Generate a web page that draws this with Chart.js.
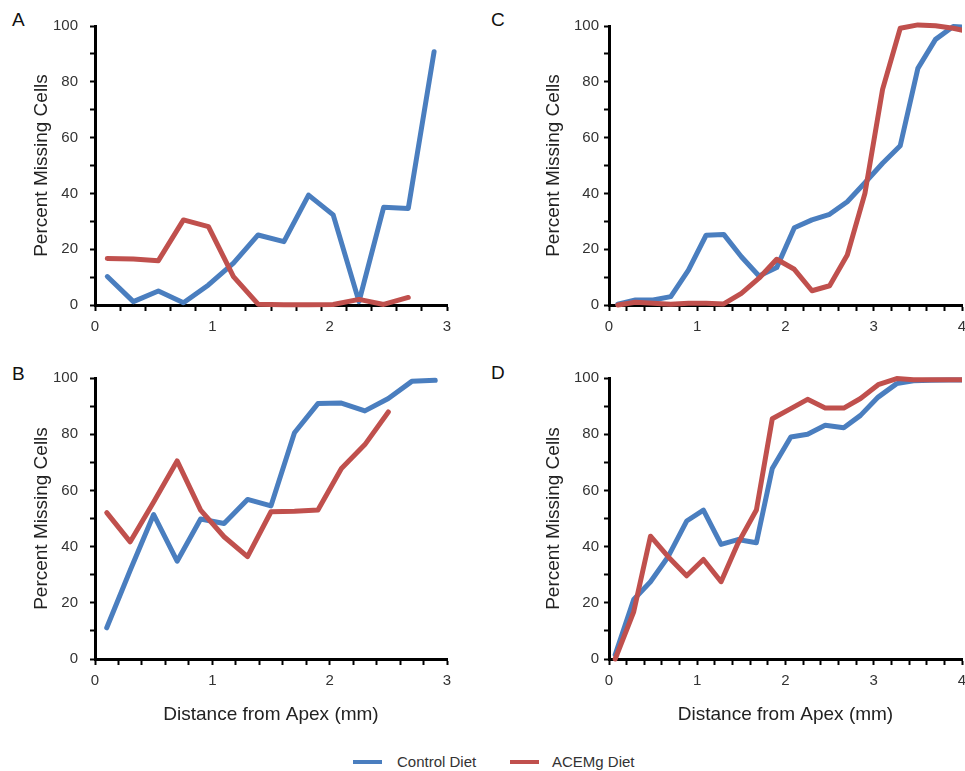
<!DOCTYPE html>
<html>
<head>
<meta charset="utf-8">
<script src="https://cdn.jsdelivr.net/npm/chart.js@4.4.1/dist/chart.umd.min.js"></script>
<style>
html,body{margin:0;padding:0;background:#fff;width:965px;height:771px;overflow:hidden}
body{position:relative;font-family:"Liberation Sans",Arial,sans-serif}
canvas{position:absolute;display:block}
.lt{position:absolute;font-size:19px;line-height:19px;color:#111}
.sw{position:absolute;top:760px;width:29px;height:4px}
.lg{position:absolute;top:753px;font-size:15px;line-height:18px;color:#333}
</style>
</head>
<body>
<div class="lt" style="left:12px;top:10px">A</div>
<div class="lt" style="left:491px;top:10px">C</div>
<div class="lt" style="left:12px;top:364px">B</div>
<div class="lt" style="left:491px;top:363px">D</div>

<canvas id="cA" width="480" height="345" style="left:0;top:0"></canvas>
<canvas id="cB" width="480" height="390" style="left:0;top:345px"></canvas>
<canvas id="cC" width="500" height="345" style="left:480px;top:0"></canvas>
<canvas id="cD" width="500" height="390" style="left:480px;top:345px"></canvas>

<div id="leg"></div>

<script>
const FONT='"Liberation Sans", Arial, sans-serif';
const SERIES=['Control Diet','ACEMg Diet'];
const COLORS=['#4A7EBF','#C0504D'];
const Y_TITLE='Percent Missing Cells';
const X_TITLE='Distance from Apex (mm)';

// A: distance from apex (mm) / percent missing
const A_X=[0.105,0.327,0.54,0.754,0.967,1.18,1.39,1.61,1.82,2.03,2.25,2.46,2.67,2.89];
const A_CTRL=[10.2,1.2,5.0,0.8,7.2,15.0,25.1,22.7,39.4,32.3,1.2,35.0,34.6,90.8];
const A_ACEMG=[16.7,16.5,15.9,30.5,28.1,10.2,0.3,0.1,0.1,0.2,2.0,0.2,2.7];
const A_LABELS=[0,1,2,3];

// B
const B_X=[0.1,0.3,0.5,0.7,0.9,1.1,1.3,1.5,1.7,1.9,2.1,2.3,2.5,2.7,2.9];
const B_CTRL=[11.1,31.6,51.4,34.8,49.8,48.2,56.8,54.5,80.5,90.9,91.1,88.3,92.7,98.8,99.2];
const B_ACEMG=[52.1,41.7,55.9,70.5,53.0,43.5,36.4,52.4,52.6,53.0,67.8,76.3,87.9];
const B_LABELS=[0,1,2,3];

// C
const C_X=[0.1,0.3,0.5,0.7,0.9,1.1,1.3,1.5,1.7,1.9,2.1,2.3,2.5,2.7,2.9,3.1,3.3,3.5,3.7,3.9,4.1];
const C_CTRL=[0.3,1.8,1.8,3.0,12.5,25.0,25.3,17.3,10.4,13.4,27.7,30.5,32.5,37.0,43.8,50.8,57.1,84.8,95.2,99.8,99.5];
const C_ACEMG=[0,1.0,0.6,0.3,0.6,0.6,0.4,4.2,9.6,16.4,12.8,5.1,6.9,17.9,40.0,77.3,99.2,100.4,100.1,99.2,97.8];
const C_LABELS=[0,1,2,3,4];

// D
const D_X=[0.07,0.28,0.47,0.67,0.88,1.07,1.27,1.46,1.67,1.85,2.06,2.25,2.45,2.66,2.85,3.05,3.26,3.45,3.65,3.85,4.05];
const D_CTRL=[1.5,21.2,27.5,36.4,49.1,53.0,40.8,42.5,41.4,67.8,79.0,80.0,83.2,82.3,86.7,93.2,98.0,99.0,99.2,99.3,99.3];
const D_ACEMG=[0,16.8,43.7,36.4,29.6,35.4,27.5,41.1,53.0,85.5,89.1,92.4,89.3,89.3,92.7,97.6,99.8,99.4,99.4,99.4,99.4];
const D_LABELS=[0,1,2,3,4];

function panel(id,xs,ctrl,acem,o){
  const pts=ys=>ys.map((y,i)=>({x:xs[i],y}));
  // minor tick marks plus label-only positions
  const marks=[];
  for(let i=0;i*o.step<=o.xMax+1e-6;i++) marks.push({value:+(i*o.step).toFixed(4)});
  o.labels.forEach(l=>{if(!marks.some(t=>Math.abs(t.value-l)<1e-3)) marks.push({value:l,noMark:true});});
  marks.sort((a,b)=>a.value-b.value);
  const lbl=v=>{const l=o.labels.find(l=>Math.abs(l-v)<1e-3);return l===undefined?'':String(l);};
  const ds=(k,data)=>({label:SERIES[k],data,borderColor:COLORS[k],backgroundColor:COLORS[k],borderWidth:5,
    pointRadius:0,tension:0,fill:false,borderJoinStyle:'round',borderCapStyle:'round',order:2-k,
    clip:{left:false,top:false,bottom:false,right:0}});
  return new Chart(document.getElementById(id),{
    type:'line',
    data:{datasets:[ds(0,pts(ctrl)),ds(1,pts(acem))]},
    options:{responsive:false,animation:false,events:[],
      layout:{padding:{top:o.top,right:o.right,bottom:0,left:0}},
      plugins:{legend:{display:false},tooltip:{enabled:false}},
      scales:{
        x:{type:'linear',min:0,max:o.xMax,
          afterBuildTicks:s=>{s.ticks=marks.map(t=>({...t}));},
          afterFit:s=>{s.height=o.xH;},
          ticks:{autoSkip:false,maxRotation:0,padding:7,color:'#333',font:{size:15,family:FONT},callback:v=>lbl(v)},
          grid:{drawOnChartArea:false,drawTicks:true,tickLength:6,tickWidth:2,
            tickColor:c=>c.tick&&c.tick.noMark?'rgba(0,0,0,0)':'#000'},
          border:{display:true,color:'#000',width:3},
          title:{display:!!o.xTitle,text:X_TITLE,color:'#222',font:{size:19,family:FONT},padding:{top:0,bottom:9}}},
        y:{min:0,max:100,
          afterFit:s=>{s.width=o.yW;},
          ticks:{stepSize:10,autoSkip:false,padding:o.yPad,color:'#333',font:{size:15,family:FONT},callback:v=>v%20===0?v:''},
          grid:{drawOnChartArea:false,drawTicks:true,tickLength:5,tickWidth:2,tickColor:'#000'},
          border:{display:true,color:'#000',width:3},
          title:{display:true,text:Y_TITLE,color:'#222',font:{size:19,family:FONT},padding:{top:o.yTitlePad,bottom:0}}}
      }}
  });
}

panel('cA',A_X,A_CTRL,A_ACEMG,{xMax:3,step:3/14,labels:A_LABELS,top:26,right:33,xH:40,yW:95,yPad:12,yTitlePad:30});
panel('cB',B_X,B_CTRL,B_ACEMG,{xMax:3,step:0.2,labels:B_LABELS,top:33,right:33,xH:76,yW:95,yPad:12,yTitlePad:30,xTitle:true});
panel('cC',C_X,C_CTRL,C_ACEMG,{xMax:4,step:0.2,labels:C_LABELS,top:26,right:18,xH:40,yW:129,yPad:5,yTitlePad:62});
panel('cD',D_X,D_CTRL,D_ACEMG,{xMax:4,step:0.2,labels:D_LABELS,top:33,right:18,xH:76,yW:129,yPad:5,yTitlePad:62,xTitle:true});

// shared legend
const LEG_POS=[[353,397],[510,552]];
document.getElementById('leg').innerHTML=SERIES.map((s,k)=>
  `<div class="sw" style="left:${LEG_POS[k][0]}px;background:${COLORS[k]}"></div><div class="lg" style="left:${LEG_POS[k][1]}px">${s}</div>`).join('');
</script>
</body>
</html>
